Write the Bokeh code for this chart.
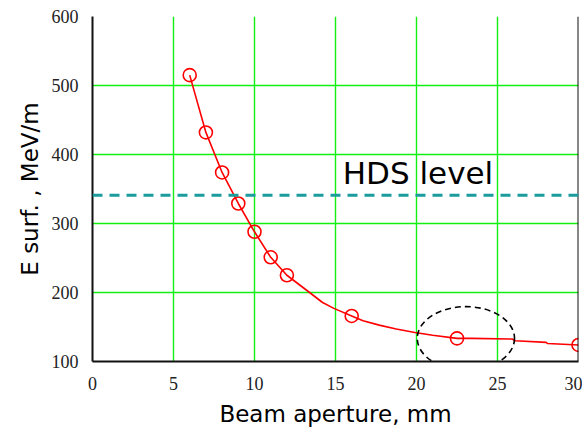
from bokeh.plotting import figure
from bokeh.models import Range1d, FixedTicker, Label, Span
from bokeh.embed import file_html
from bokeh.resources import INLINE

# Marker points
aperture = [6, 7, 8, 9, 10, 11, 12, 16, 22.5, 30]
e_surf = [515, 432, 374, 329, 288, 251, 225, 166, 133.5, 124]

# Curve points
curve_x = [6, 7, 8, 9, 10, 11, 12, 13.4, 14.2, 14.9, 16, 16.7, 17.7, 18.75,
           19.9, 21, 22.5, 23.4, 25.9, 26.1, 28, 28.1, 30]
curve_y = [515, 432, 374, 329, 288, 251, 225, 200, 185.5, 177, 166, 159, 152.7,
           147, 142, 138, 133.5, 133.5, 132.5, 130, 127.7, 126, 124]

hds_level = 341
x_ticks = [0, 5, 10, 15, 20, 25, 30]
y_ticks = [100, 200, 300, 400, 500, 600]

# Dashed ellipse annotation (center, size in data units)
ell_x = [23.05]
ell_y = [133.5]
ell_w = [6.0]
ell_h = [92]

FONT = "DejaVu Sans"
SERIF = "Liberation Serif"

p = figure(width=582, height=429, x_range=Range1d(0, 30), y_range=Range1d(100, 600),
           output_backend="svg", toolbar_location=None,
           min_border_left=92, min_border_right=4, min_border_top=16, min_border_bottom=65)
p.background_fill_color = "white"
p.border_fill_color = "white"
p.outline_line_color = None

p.xaxis.ticker = FixedTicker(ticks=x_ticks)
p.yaxis.ticker = FixedTicker(ticks=y_ticks)
p.xgrid.ticker = FixedTicker(ticks=x_ticks)
p.ygrid.ticker = FixedTicker(ticks=y_ticks)
p.grid.grid_line_color = "#11f011"
p.grid.grid_line_width = 1.4
p.grid.grid_line_alpha = 1.0

for ax in (p.xaxis, p.yaxis):
    ax.axis_line_color = "#111111"
    ax.axis_line_width = 2
    ax.major_tick_line_color = None
    ax.minor_tick_line_color = None
    ax.major_label_text_font = SERIF
    ax.major_label_text_font_size = "18px"
    ax.major_label_text_color = "#222222"
    ax.axis_label_text_font = FONT
    ax.axis_label_text_font_size = "23px"
    ax.axis_label_text_font_style = "normal"
    ax.axis_label_text_color = "black"

p.xaxis.axis_label = "Beam aperture, mm"
p.yaxis.axis_label = "E surf. , MeV/m"
p.xaxis.major_label_standoff = 9
p.xaxis.axis_label_standoff = 8
p.yaxis.major_label_standoff = 8
p.yaxis.axis_label_standoff = 6

# right frame edge
p.add_layout(Span(location=30, dimension="height", line_color="#111111", line_width=2))

p.add_layout(Span(location=hds_level, dimension="width", line_color="#1a9c9c",
                  line_width=3, line_dash="10 7"))

p.line(curve_x, curve_y, line_color="#ff0000", line_width=1.6)
p.scatter(aperture, e_surf, marker="circle", size=13, fill_color=None,
          line_color="#ff0000", line_width=1.6)

p.ellipse(x=ell_x, y=ell_y, width=ell_w, height=ell_h, fill_color=None,
          line_color="black", line_width=1.6, line_dash="6 4")

p.add_layout(Label(x=15.45, y=373.5, text="HDS level", text_font=FONT,
                   text_font_size="31px", text_color="black", text_baseline="alphabetic"))

open("out.html", "w").write(file_html(p, INLINE))
